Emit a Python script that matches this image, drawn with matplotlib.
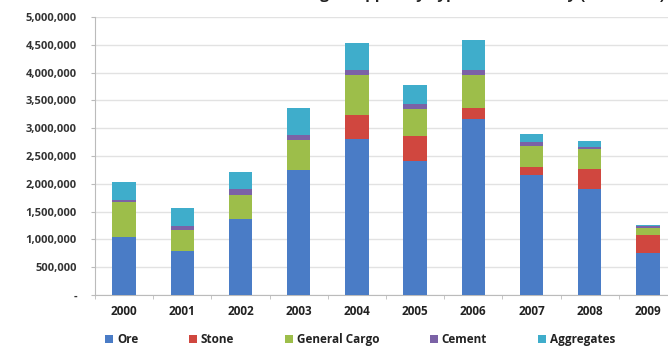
import matplotlib
matplotlib.use("Agg")
import matplotlib.pyplot as plt
import numpy as np

years = ["2000", "2001", "2002", "2003", "2004", "2005", "2006", "2007", "2008", "2009"]
ore = [1050000, 800000, 1360000, 2250000, 2800000, 2410000, 3160000, 2150000, 1910000, 750000]
stone = [0, 0, 0, 0, 440000, 450000, 210000, 160000, 350000, 330000]
general_cargo = [630000, 370000, 440000, 540000, 720000, 480000, 590000, 370000, 360000, 120000]
cement = [20000, 70000, 100000, 90000, 90000, 90000, 90000, 80000, 50000, 40000]
aggregates = [330000, 330000, 320000, 490000, 490000, 350000, 540000, 130000, 100000, 20000]
series_names = ["Ore", "Stone", "General Cargo", "Cement", "Aggregates"]
yticks = [0, 500000, 1000000, 1500000, 2000000, 2500000, 3000000, 3500000, 4000000, 4500000, 5000000]
ytick_labels = ["-", "500,000", "1,000,000", "1,500,000", "2,000,000", "2,500,000",
                "3,000,000", "3,500,000", "4,000,000", "4,500,000", "5,000,000"]
title = "Duluth Harbor Tonnage Shipped by Type of Commodity (2000-2009)"

colors = ["#4A7CC6", "#D0473F", "#9DBE4A", "#7B62A6", "#3FADCB"]

plt.rcParams['font.family'] = ['Open Sans', 'DejaVu Sans']

fig = plt.figure(figsize=(6.68, 3.55), dpi=100)
ax = fig.add_axes([95/668, 1-295/355, (677-95)/668, (295-17)/355])

x = np.arange(len(years))
data = [ore, stone, general_cargo, cement, aggregates]
bottom = np.zeros(len(years))
handles = []
for vals, c, name in zip(data, colors, series_names):
    v = np.array(vals, dtype=float)
    h = ax.bar(x, v, width=0.4, bottom=bottom, color=c, label=name, zorder=3)
    handles.append(h)
    bottom += v

ax.set_xlim(-0.5, len(years) - 0.5)
ax.set_ylim(0, 5000000)
ax.set_yticks(yticks)
ax.set_yticklabels(ytick_labels, fontsize=8, fontweight='bold', color='#333333')
ax.set_xticks(x)
ax.set_xticklabels(years, fontsize=8.5, fontweight='bold', color='#222222')
ax.tick_params(axis='x', length=0, pad=7)
ax.set_xticks(np.arange(-0.5, len(years), 1), minor=True)
ax.tick_params(axis='x', which='minor', length=3, color='#bbbbbb')
ax.tick_params(axis='y', length=3, color='#bbbbbb', pad=10)
ax.yaxis.grid(True, color='#e2e2e2', linewidth=1, zorder=0)
for s in ['top', 'right']:
    ax.spines[s].set_visible(False)
ax.spines['left'].set_color('#bbbbbb')
ax.spines['bottom'].set_color('#bbbbbb')

fig.text(665/668, 1 + 1.5/355, title, ha='right', va='baseline', fontsize=11,
         fontweight='bold', color='#222222')

leg = fig.legend(handles=handles, labels=series_names, loc='center', bbox_to_anchor=(0.539, 0.043),
                 ncol=5, frameon=False, fontsize=8.5, handlelength=0.7, handleheight=0.7,
                 handletextpad=0.3, columnspacing=4.3)
for t in leg.get_texts():
    t.set_fontweight('bold')
    t.set_color('#222222')

fig.savefig("out.png", dpi=100)
